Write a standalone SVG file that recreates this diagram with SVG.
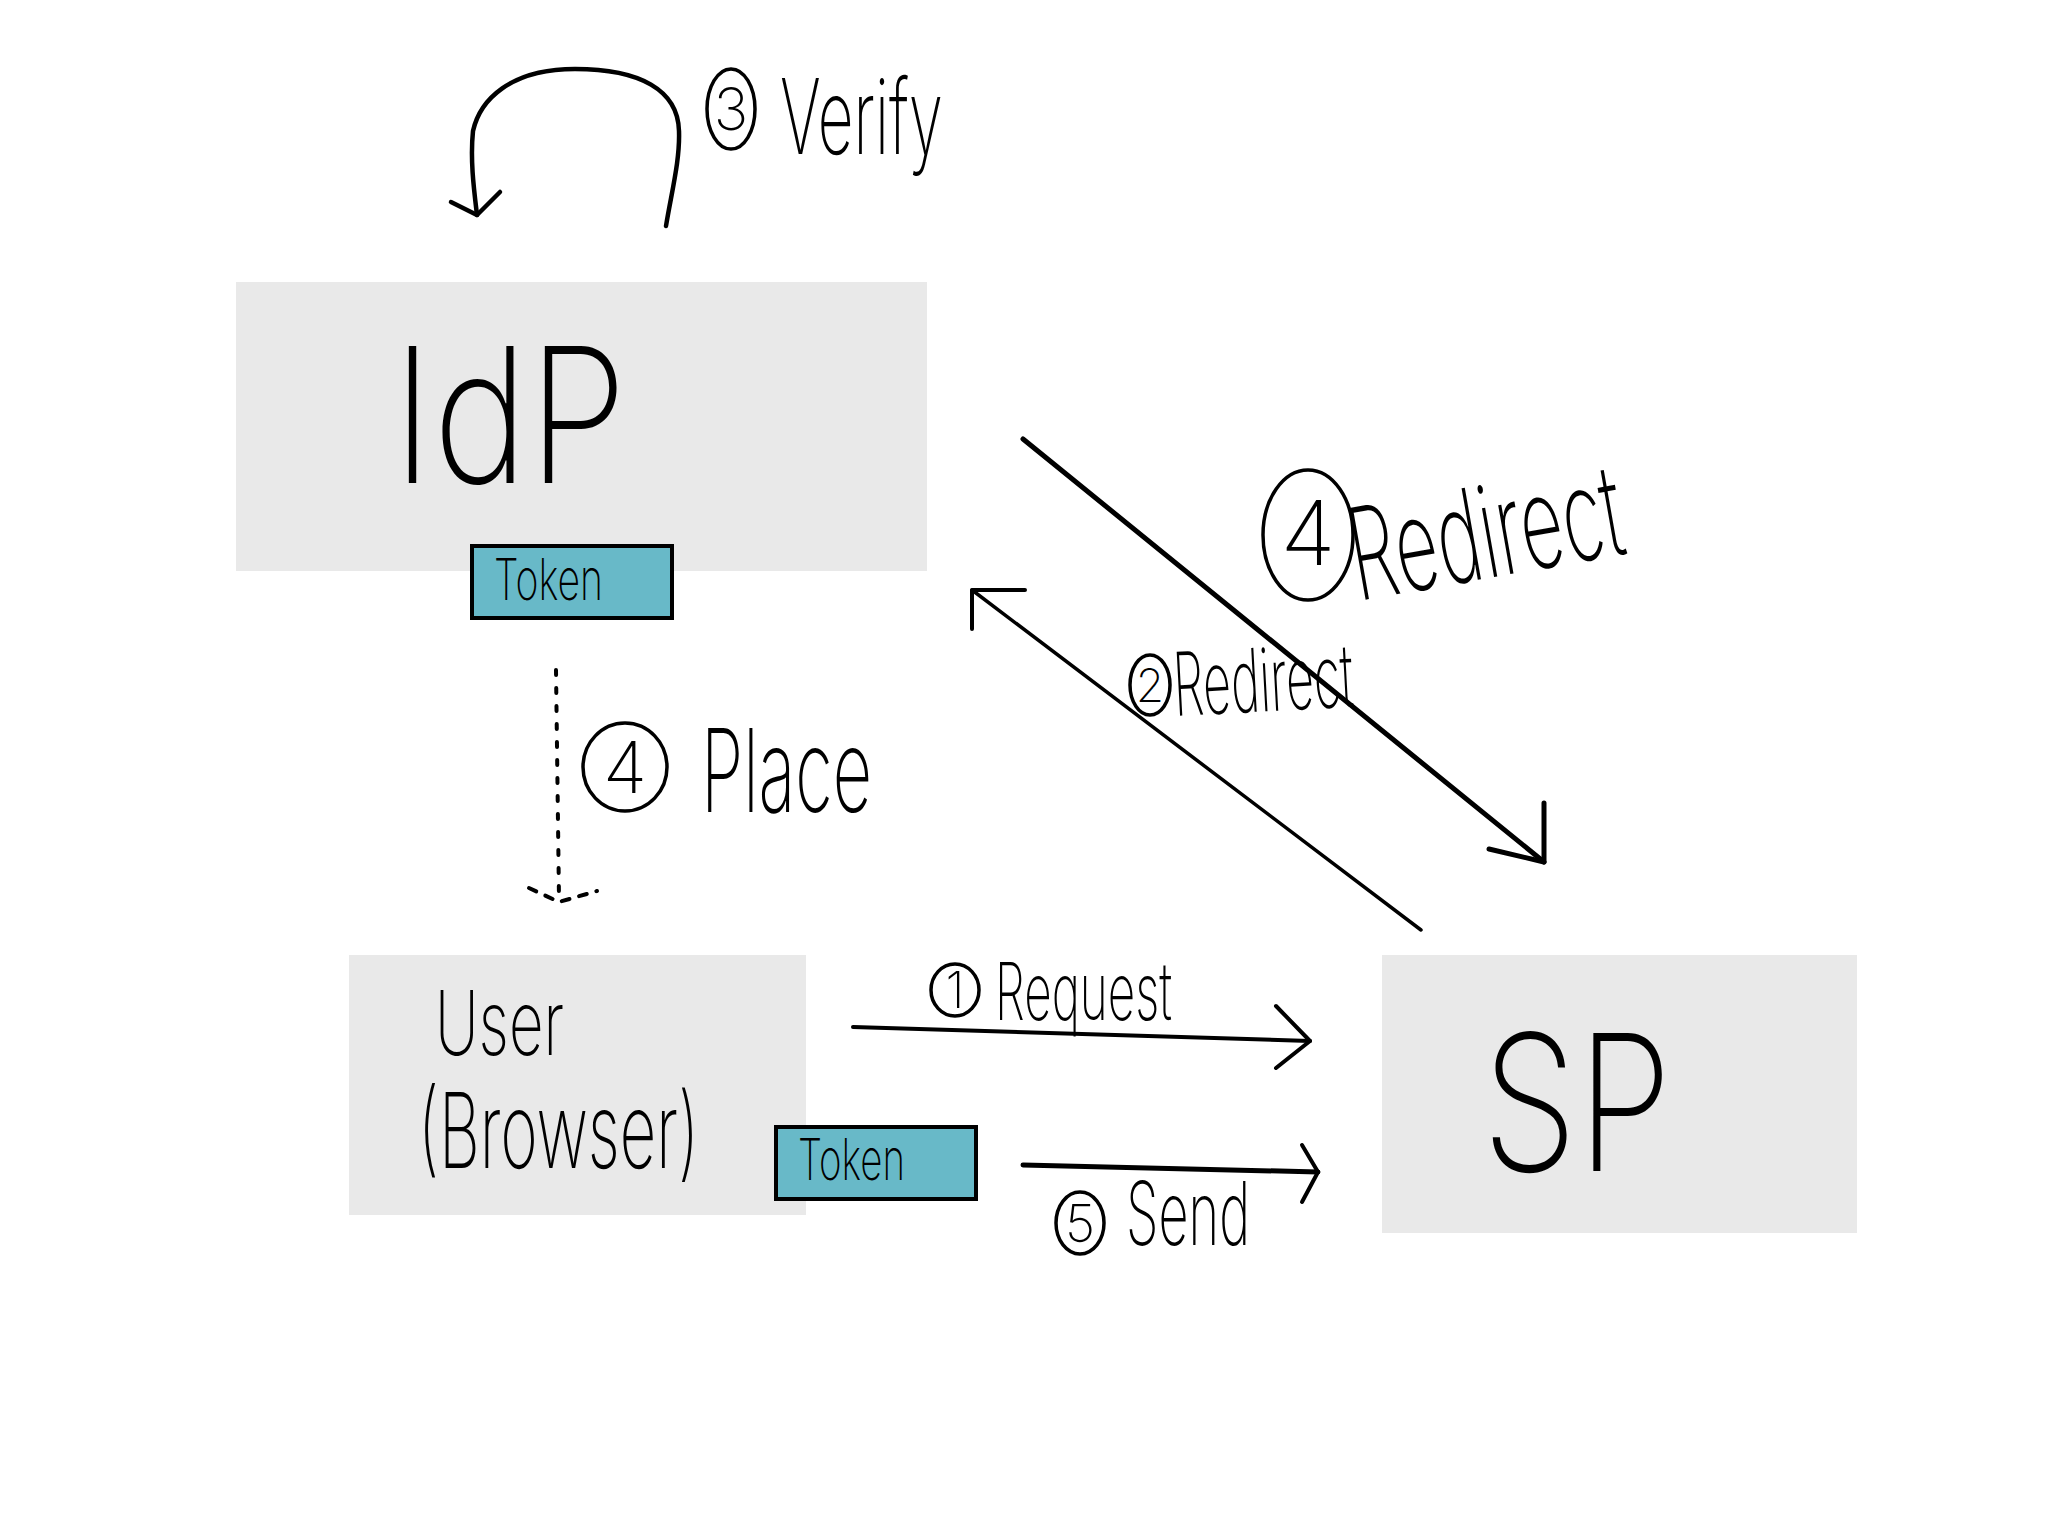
<svg xmlns="http://www.w3.org/2000/svg" width="2048" height="1536" viewBox="0 0 2048 1536">
<style>
.box{fill:#e9e9e9;stroke:none}
.tok{fill:#68b9c8;stroke:#000;stroke-width:4}
.t{font-family:Inter,"Open Sans","Liberation Sans",sans-serif;font-weight:200;fill:#000}
.ln{fill:none;stroke:#000;stroke-linecap:round;stroke-linejoin:round}
.circ{fill:none;stroke:#000;stroke-width:3.5}
</style>
<rect width="2048" height="1536" fill="#fff"/>
<g id="idp">
<rect class="box" x="236" y="282" width="691" height="289"/>
<text class="t" x="392" y="483" font-size="188" textLength="235" lengthAdjust="spacingAndGlyphs">IdP</text>
</g>
<g id="idp-token">
<rect class="tok" x="472" y="546" width="200" height="72"/>
<text class="t" x="494" y="600" font-size="58" textLength="109" lengthAdjust="spacingAndGlyphs">Token</text>
</g>
<g id="user">
<rect class="box" x="349" y="955" width="457" height="260"/>
<text class="t" x="435" y="1055" font-size="90" textLength="129" lengthAdjust="spacingAndGlyphs">User</text>
<text class="t" x="418" y="1168" font-size="104" textLength="281" lengthAdjust="spacingAndGlyphs">(Browser)</text>
</g>
<g id="user-token">
<rect class="tok" x="776" y="1127" width="200" height="72"/>
<text class="t" x="798" y="1180" font-size="58" textLength="107" lengthAdjust="spacingAndGlyphs">Token</text>
</g>
<g id="sp">
<rect class="box" x="1382" y="955" width="475" height="278"/>
<text class="t" x="1482" y="1171" font-size="190" textLength="190" lengthAdjust="spacingAndGlyphs">SP</text>
</g>
<g id="connectors">
<g id="verify">
<path class="ln" stroke-width="4.5" d="M666,226 C672,190 680,160 679,131 C678,90 640,69 575,69 C510,69 480,100 473,131 C470,160 474,190 477,215"/>
<polyline class="ln" stroke-width="4.5" points="451,202 477,215 500,192"/>
</g>
<g id="redirect4">
<line class="ln" stroke-width="5" x1="1023" y1="439" x2="1544" y2="862"/>
<polyline class="ln" stroke-width="5" points="1544,803 1544,862 1489,849"/>
</g>
<g id="redirect2">
<line class="ln" stroke-width="3.5" x1="1421" y1="930" x2="972" y2="590"/>
<polyline class="ln" stroke-width="4" points="972,629 972,590 1025,590"/>
</g>
<g id="place">
<line class="ln" stroke-width="4" stroke-dasharray="5 13" x1="556" y1="670" x2="559" y2="899"/>
<polyline class="ln" stroke-width="4" stroke-dasharray="8 10" points="529,888 559,902 597,891"/>
</g>
<g id="request">
<line class="ln" stroke-width="4" x1="853" y1="1027" x2="1310" y2="1041"/>
<polyline class="ln" stroke-width="4" points="1276,1006 1310,1041 1276,1068"/>
</g>
<g id="send">
<line class="ln" stroke-width="5" x1="1023" y1="1165" x2="1318" y2="1172"/>
<polyline class="ln" stroke-width="4" points="1302,1145 1318,1172 1302,1202"/>
</g>
</g>
<g id="labels">
<g id="lbl-verify">
<ellipse class="circ" cx="731" cy="109" rx="24" ry="40"/>
<text class="t" x="731" y="130" font-size="58" text-anchor="middle">3</text>
<text class="t" x="780" y="154" font-size="104" textLength="163" lengthAdjust="spacingAndGlyphs">Verify</text>
</g>
<g id="lbl-redirect4">
<ellipse class="circ" cx="1308" cy="535" rx="45" ry="65"/>
<text class="t" x="1308" y="565" font-size="90" text-anchor="middle">4</text>
<text class="t" x="1358" y="601" font-size="128" textLength="275" lengthAdjust="spacingAndGlyphs" transform="rotate(-10 1358 601)">Redirect</text>
</g>
<g id="lbl-redirect2">
<ellipse class="circ" cx="1150" cy="685" rx="20" ry="30"/>
<text class="t" x="1150" y="702" font-size="46" text-anchor="middle">2</text>
<text class="t" x="1175" y="716" font-size="88" textLength="180" lengthAdjust="spacingAndGlyphs" transform="rotate(-3 1175 716)">Redirect</text>
</g>
<g id="lbl-place">
<ellipse class="circ" cx="625" cy="767" rx="42" ry="44"/>
<text class="t" x="625" y="793" font-size="72" text-anchor="middle">4</text>
<text class="t" x="701" y="812" font-size="116" textLength="171" lengthAdjust="spacingAndGlyphs">Place</text>
</g>
<g id="lbl-request">
<ellipse class="circ" cx="955" cy="990" rx="24" ry="26"/>
<text class="t" x="955" y="1008" font-size="50" text-anchor="middle">1</text>
<text class="t" x="995" y="1020" font-size="80" textLength="177" lengthAdjust="spacingAndGlyphs">Request</text>
</g>
<g id="lbl-send">
<ellipse class="circ" cx="1080" cy="1223" rx="24" ry="31"/>
<text class="t" x="1080" y="1242" font-size="52" text-anchor="middle">5</text>
<text class="t" x="1126" y="1245" font-size="88" textLength="124" lengthAdjust="spacingAndGlyphs">Send</text>
</g>
</g>
</svg>
